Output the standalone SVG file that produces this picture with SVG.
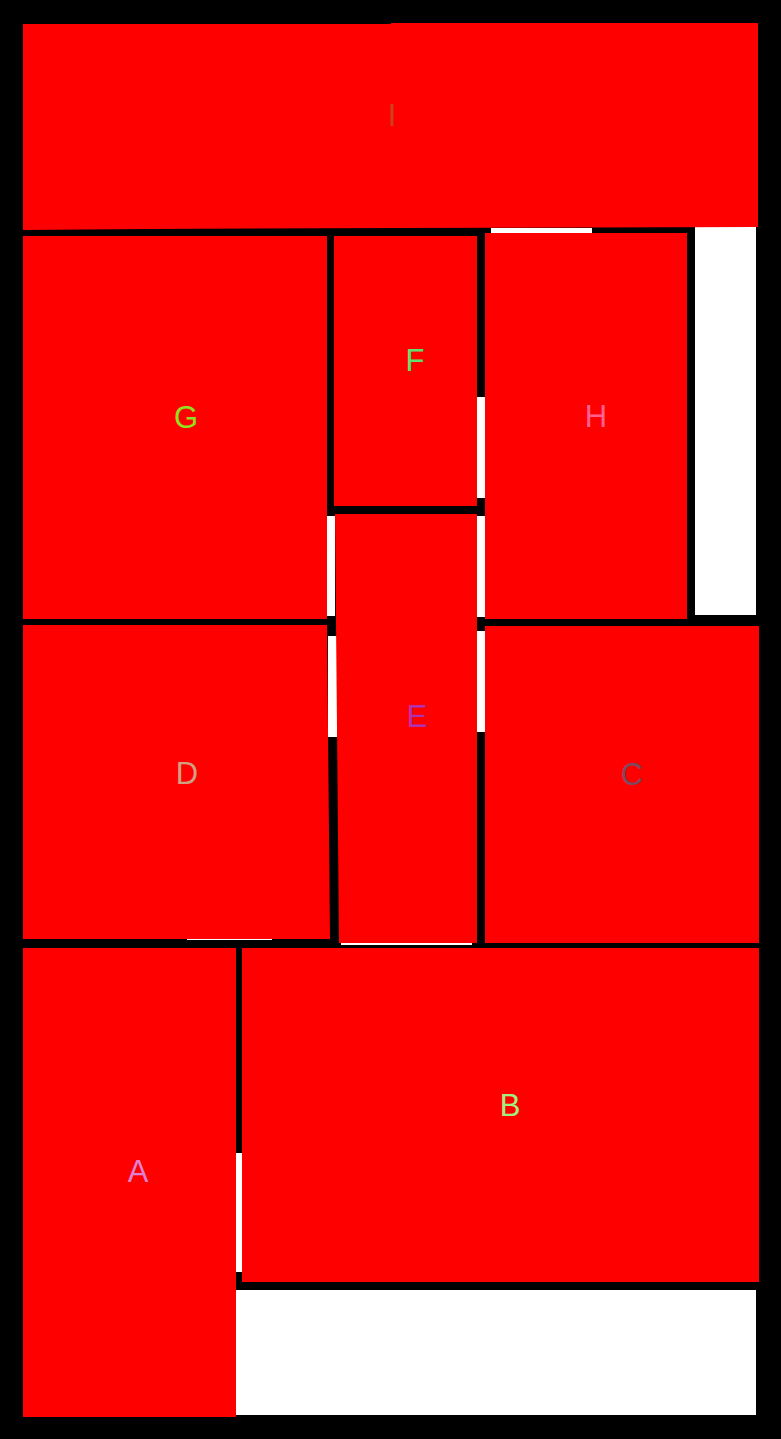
<svg xmlns="http://www.w3.org/2000/svg" width="781" height="1439" viewBox="0 0 781 1439">
  <style>
    .room { fill: #ff0000; }
    .gap { fill: #ffffff; }
    .lbl { font-family: "Liberation Sans", "DejaVu Sans", sans-serif; font-size: 31px; text-anchor: middle; }
  </style>
  <rect x="0" y="0" width="781" height="1439" fill="#000000"/>
  <g id="openings">
    <rect class="gap" x="695" y="227" width="61" height="388"/>
    <rect class="gap" x="491" y="228" width="101" height="5"/>
    <rect class="gap" x="236" y="1290" width="520" height="125"/>
    <rect class="gap" x="477" y="397" width="8" height="101"/>
    <rect class="gap" x="477" y="516" width="8" height="101"/>
    <rect class="gap" x="477" y="631" width="8" height="101"/>
    <rect class="gap" x="327" y="516" width="8" height="100"/>
    <rect class="gap" x="328" y="636" width="9" height="101"/>
    <rect class="gap" x="236" y="1153" width="6" height="119"/>
    <rect class="gap" x="187" y="938" width="85" height="2"/>
    <rect class="gap" x="341" y="942" width="131" height="3"/>
  </g>
  <g id="I">
    <polygon class="room" points="23,24 391,24 391,23 758,23 758,227 391,228 146,229 23,230"/>
    <text class="lbl" x="392" y="126" fill="#d2401a">I</text>
  </g>
  <g id="G">
    <rect class="room" x="23" y="236" width="304" height="383"/>
    <text class="lbl" x="186" y="428" fill="#90e020">G</text>
  </g>
  <g id="F">
    <rect class="room" x="334" y="236" width="143" height="270"/>
    <text class="lbl" x="415" y="371" fill="#60e070">F</text>
  </g>
  <g id="H">
    <rect class="room" x="485" y="233" width="202" height="386"/>
    <text class="lbl" x="596" y="427" fill="#ff6090">H</text>
  </g>
  <g id="E">
    <polygon class="room" points="335,514 477,514 477,943 339,943"/>
    <text class="lbl" x="417" y="727" fill="#b030b0">E</text>
  </g>
  <g id="D">
    <polygon class="room" points="23,625 327,625 330,939 23,939"/>
    <text class="lbl" x="187" y="784" fill="#d0a080">D</text>
  </g>
  <g id="C">
    <rect class="room" x="485" y="626" width="274" height="317"/>
    <text class="lbl" x="632" y="785" fill="#7a4a60">C</text>
  </g>
  <g id="A">
    <rect class="room" x="23" y="948" width="213" height="469"/>
    <text class="lbl" x="138" y="1182" fill="#e080d0">A</text>
  </g>
  <g id="B">
    <rect class="room" x="242" y="948" width="517" height="334"/>
    <text class="lbl" x="510" y="1116" fill="#a0f080">B</text>
  </g>
</svg>
